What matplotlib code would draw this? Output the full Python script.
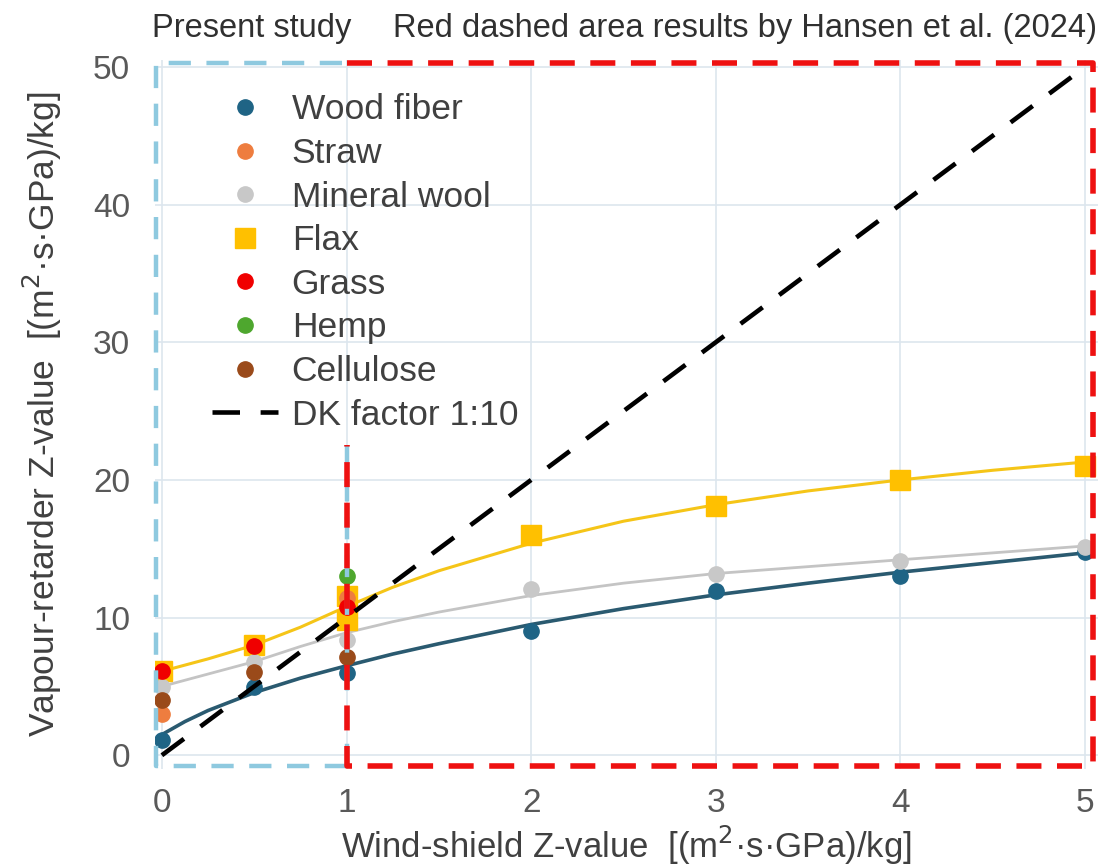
import matplotlib
matplotlib.use("Agg")
import matplotlib.pyplot as plt

# ---- data ----
wood_x = [0, 0.5, 1, 2, 3, 4, 5]
wood_y = [1.1, 4.95, 6.0, 9.0, 11.9, 13.0, 14.8]
straw_x = [0, 1]
straw_y = [3.0, 11.4]
mineral_x = [0, 0.5, 1, 2, 3, 4, 5]
mineral_y = [4.95, 6.8, 8.4, 12.05, 13.2, 14.1, 15.1]
flax_x = [0, 0.5, 1, 1, 2, 3, 4, 5]
flax_y = [6.1, 8.0, 9.8, 11.6, 16.0, 18.1, 20.0, 21.0]
grass_x = [0, 0.5, 1]
grass_y = [6.1, 7.9, 10.8]
hemp_x = [1]
hemp_y = [13.0]
cell_x = [0, 0.5, 1]
cell_y = [4.05, 6.05, 7.15]

# trend lines
trend_x = [0, 0.125, 0.25, 0.5, 0.75, 1, 1.25, 1.5, 2, 2.5, 3, 3.5, 4, 4.5, 5]
trend_wood = [1.5, 2.45, 3.25, 4.55, 5.6, 6.5, 7.35, 8.1, 9.5, 10.65, 11.65, 12.5, 13.3, 14.0, 14.7]
trend_mineral = [5.0, 5.45, 5.9, 6.8, 7.9, 8.9, 9.7, 10.4, 11.6, 12.5, 13.2, 13.7, 14.2, 14.7, 15.2]
trend_flax = [6.1, 6.55, 7.0, 8.0, 9.3, 10.8, 12.2, 13.4, 15.4, 17.0, 18.2, 19.2, 20.0, 20.7, 21.3]

dk_x = [0, 5]
dk_y = [0, 50]

xticks = [0, 1, 2, 3, 4, 5]
yticks = [0, 10, 20, 30, 40, 50]

FONT = ['Liberation Sans', 'DejaVu Sans']
plt.rcParams['font.family'] = FONT

fig = plt.figure(figsize=(11.02, 8.67), dpi=100)
ax = fig.add_axes([0.1407, 0.113, 0.8557, 0.8178])

ax.set_xlim(-0.037, 5.07)
ax.set_ylim(-1.0, 50.5)
ax.set_xticks(xticks)
ax.set_yticks(yticks)
ax.grid(True, color='#dde6ee', linewidth=1.2)
ax.set_axisbelow(True)
for s in ax.spines.values():
    s.set_visible(False)
ax.tick_params(length=0, labelsize=24, labelcolor='#595959')
ax.tick_params(axis='x', pad=14)
ax.tick_params(axis='y', pad=18)

# trend lines
ax.plot(trend_x, trend_flax, color='#f5c518', lw=2.2, zorder=2)
ax.plot(trend_x, trend_mineral, color='#c4c4c4', lw=2.0, zorder=2)
ax.plot(trend_x, trend_wood, color='#2a5a70', lw=2.6, zorder=2)

ms = 11
ax.plot(wood_x, wood_y, 'o', color='#1f6485', ms=ms, label='Wood fiber', zorder=4)
ax.plot(straw_x, straw_y, 'o', color='#ee7d3f', ms=ms, label='Straw', zorder=4)
ax.plot(mineral_x, mineral_y, 'o', color='#c8c8c8', ms=ms, label='Mineral wool', zorder=4)
ax.plot(flax_x, flax_y, 's', color='#ffc000', ms=14, label='Flax', zorder=3)
ax.plot(grass_x, grass_y, 'o', color='#f00000', ms=ms, label='Grass', zorder=5)
ax.plot(hemp_x, hemp_y, 'o', color='#4ea72e', ms=ms, label='Hemp', zorder=5)
ax.plot(cell_x, cell_y, 'o', color='#9a4a1a', ms=ms, label='Cellulose', zorder=5)
ax.plot(dk_x, dk_y, color='black', lw=3.3, dashes=(6, 4.5), label='DK factor 1:10', zorder=6)

# dashed boxes
blue = '#8ec9df'
red = '#ee1111'
x0, x1, x2 = -0.03, 1.0, 5.045
yb, yt = -0.8, 50.3
ax.plot([1.0, x0, x0, 1.0], [yb, yb, yt, yt], color=blue, lw=3.2, dashes=(5, 3.5),
        clip_on=False, zorder=7)
ax.plot([x1, x1], [yb, 22.5], color=blue, lw=3.2, dashes=(5, 3.5), clip_on=False, zorder=7)
ax.plot([x1, x2, x2, x1, x1], [yt, yt, yb, yb, 22.5], color=red, lw=4.0, dashes=(4.5, 2.8),
        clip_on=False, zorder=8)

leg = ax.legend(loc='upper left', bbox_to_anchor=(0.0604, 0.953), frameon=False,
                fontsize=25.5, labelspacing=0.3, handlelength=1.85, handletextpad=0.4,
                borderpad=0, borderaxespad=0)
for t in leg.get_texts():
    t.set_color('#404040')

ax.set_xlabel('Wind-shield Z-value  [(m$^2$·s·GPa)/kg]', fontsize=25, color='#404040', labelpad=3)
ax.set_ylabel('Vapour-retarder Z-value  [(m$^2$·s·GPa)/kg]', fontsize=25.5, color='#404040', labelpad=21)

fig.text(152 / 1102, 1 - 28 / 867, 'Present study', fontsize=23.5, color='#303030',
         ha='left', va='center')
fig.text(1097 / 1102, 1 - 28 / 867, 'Red dashed area results by Hansen et al. (2024)',
         fontsize=23.5, color='#303030', ha='right', va='center')

fig.savefig('out.png', dpi=100)
